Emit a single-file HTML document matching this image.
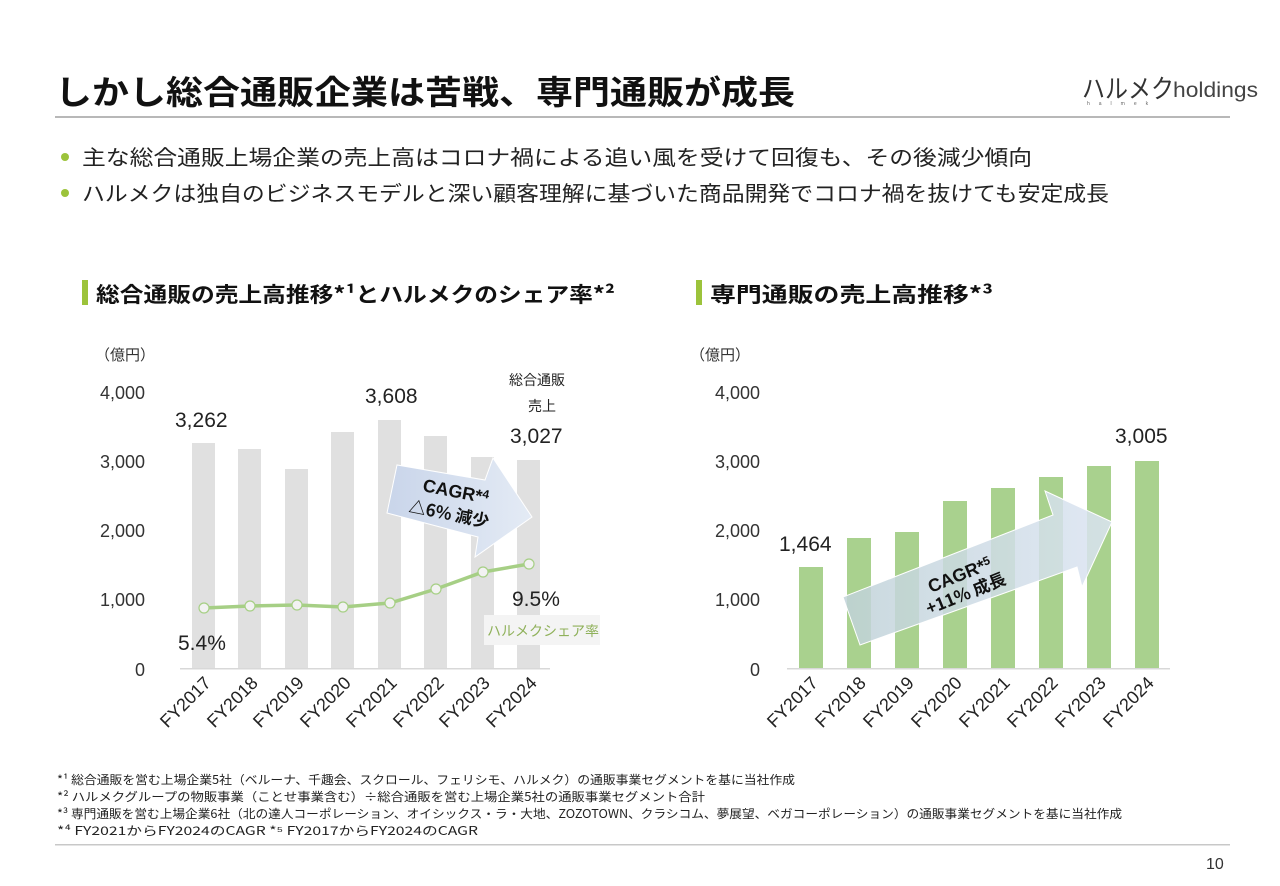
<!DOCTYPE html>
<html><head><meta charset="utf-8"><style>
html,body{margin:0;padding:0;background:#fff;}
svg{display:block;}
text{font-family:"Liberation Sans","Noto Sans CJK JP",sans-serif;}
.cjk{font-family:"Noto Sans CJK JP","Liberation Sans",sans-serif;}
.tick{font-size:18px;fill:#333;text-anchor:end;}
.dl{font-size:21px;fill:#222;}
.xl{font-size:18px;fill:#222;text-anchor:end;}
.fn{font-size:12px;fill:#222;}
</style></head><body>
<svg width="1280" height="886" viewBox="0 0 1280 886" xmlns="http://www.w3.org/2000/svg">
<defs>
<linearGradient id="g1" x1="0" y1="0" x2="1" y2="0">
<stop offset="0" stop-color="#c9d5ea"/><stop offset="1" stop-color="#e4ebf5"/></linearGradient>
<linearGradient id="g2" x1="0" y1="0" x2="1" y2="0">
<stop offset="0" stop-color="#c0d2d8" stop-opacity="0.85"/><stop offset="1" stop-color="#dbe4f2" stop-opacity="0.85"/></linearGradient>
</defs>
<text class="cjk" x="55" y="104" font-size="33" font-weight="bold" fill="#111" textLength="740" lengthAdjust="spacingAndGlyphs">しかし総合通販企業は苦戦、専門通販が成長</text>
<text class="cjk" x="1082" y="98" font-size="26" fill="#333" textLength="92" lengthAdjust="spacingAndGlyphs">ハルメク</text>
<text x="1173" y="97" font-size="21" fill="#444" textLength="85" lengthAdjust="spacingAndGlyphs">holdings</text>
<text x="1087" y="105" font-size="5" fill="#666" letter-spacing="9">halmek</text>
<rect x="55" y="116" width="1175" height="2" fill="#b8b8b8"/>
<circle cx="65" cy="157" r="4" fill="#9cc33b"/>
<text class="cjk" x="82" y="165" font-size="21" fill="#222" textLength="950" lengthAdjust="spacingAndGlyphs">主な総合通販上場企業の売上高はコロナ禍による追い風を受けて回復も、その後減少傾向</text>
<circle cx="65" cy="193" r="4" fill="#9cc33b"/>
<text class="cjk" x="82" y="201" font-size="21" fill="#222" textLength="1027" lengthAdjust="spacingAndGlyphs">ハルメクは独自のビジネスモデルと深い顧客理解に基づいた商品開発でコロナ禍を抜けても安定成長</text>
<rect x="82" y="280" width="6" height="25" fill="#9cc33b"/>
<text class="cjk" x="96" y="302" font-size="21" font-weight="bold" fill="#111" textLength="519" lengthAdjust="spacingAndGlyphs">総合通販の売上高推移*¹とハルメクのシェア率*²</text>
<rect x="696" y="280" width="6" height="25" fill="#9cc33b"/>
<text class="cjk" x="710" y="302" font-size="21" font-weight="bold" fill="#111" textLength="283" lengthAdjust="spacingAndGlyphs">専門通販の売上高推移*³</text>
<text class="cjk" x="95" y="360" font-size="15" fill="#333">（億円）</text>
<text class="tick" x="145" y="399">4,000</text>
<text class="tick" x="145" y="468">3,000</text>
<text class="tick" x="145" y="537">2,000</text>
<text class="tick" x="145" y="606">1,000</text>
<text class="tick" x="145" y="676">0</text>
<g fill="#e0e0e0">
<rect x="192" y="443" width="23" height="226"/>
<rect x="238" y="449" width="23" height="220"/>
<rect x="285" y="469" width="23" height="200"/>
<rect x="331" y="432" width="23" height="237"/>
<rect x="378" y="420" width="23" height="249"/>
<rect x="424" y="436" width="23" height="233"/>
<rect x="471" y="457" width="23" height="212"/>
<rect x="517" y="460" width="23" height="209"/>
</g>
<rect x="180" y="668" width="370" height="1.5" fill="#d8d8d8"/>
<polygon points="387,513 397,465 485,480 493,458 532,517 475,557 478,537" fill="url(#g1)" stroke="#fff" stroke-width="1"/>
<text x="0" y="0" font-size="18" font-weight="bold" fill="#111" transform="translate(422,491) rotate(11)">CAGR*<tspan font-size="12" dy="-5">4</tspan></text>
<text class="cjk" x="0" y="0" font-size="17" font-weight="bold" fill="#111" transform="translate(408,512) rotate(11)">△6% 減少</text>
<polyline points="204,608 250,606 297,605 343,607 390,603 436,589 483,572 529,564" fill="none" stroke="#a6cf85" stroke-width="3.5"/>
<g fill="#f2f2f2" stroke="#a6cf85" stroke-width="1.2">
<circle cx="204" cy="608" r="5"/><circle cx="250" cy="606" r="5"/><circle cx="297" cy="605" r="5"/><circle cx="343" cy="607" r="5"/><circle cx="390" cy="603" r="5"/><circle cx="436" cy="589" r="5"/><circle cx="483" cy="572" r="5"/><circle cx="529" cy="564" r="5"/>
</g>
<text class="dl" x="175" y="427">3,262</text>
<text class="dl" x="365" y="403">3,608</text>
<text class="cjk" x="509" y="385" font-size="14" fill="#222">総合通販</text>
<text class="cjk" x="528" y="411" font-size="14" fill="#222">売上</text>
<text class="dl" x="510" y="443">3,027</text>
<text class="dl" x="178" y="650">5.4%</text>
<text class="dl" x="512" y="606">9.5%</text>
<rect x="484" y="615" width="116" height="30" fill="#f4f4f4"/>
<text class="cjk" x="487" y="636" font-size="14" fill="#8fb15a" textLength="112" lengthAdjust="spacingAndGlyphs">ハルメクシェア率</text>
<text class="xl" transform="translate(212,684) rotate(-45)">FY2017</text>
<text class="xl" transform="translate(259,684) rotate(-45)">FY2018</text>
<text class="xl" transform="translate(305,684) rotate(-45)">FY2019</text>
<text class="xl" transform="translate(352,684) rotate(-45)">FY2020</text>
<text class="xl" transform="translate(398,684) rotate(-45)">FY2021</text>
<text class="xl" transform="translate(445,684) rotate(-45)">FY2022</text>
<text class="xl" transform="translate(491,684) rotate(-45)">FY2023</text>
<text class="xl" transform="translate(538,684) rotate(-45)">FY2024</text>
<text class="cjk" x="690" y="360" font-size="15" fill="#333">（億円）</text>
<text class="tick" x="760" y="399">4,000</text>
<text class="tick" x="760" y="468">3,000</text>
<text class="tick" x="760" y="537">2,000</text>
<text class="tick" x="760" y="606">1,000</text>
<text class="tick" x="760" y="676">0</text>
<g fill="#a9d18e">
<rect x="799" y="567" width="24" height="102"/>
<rect x="847" y="538" width="24" height="131"/>
<rect x="895" y="532" width="24" height="137"/>
<rect x="943" y="501" width="24" height="168"/>
<rect x="991" y="488" width="24" height="181"/>
<rect x="1039" y="477" width="24" height="192"/>
<rect x="1087" y="466" width="24" height="203"/>
<rect x="1135" y="461" width="24" height="208"/>
</g>
<rect x="787" y="668" width="383" height="1.5" fill="#d8d8d8"/>
<polygon points="860,645 843,597 1053,515 1045,491 1112,522 1082,587 1077,567" fill="url(#g2)" stroke="#fff" stroke-width="1"/>
<text x="0" y="0" font-size="18" font-weight="bold" fill="#111" transform="translate(931,593) rotate(-22)">CAGR*<tspan font-size="12" dy="-5">5</tspan></text>
<text class="cjk" x="0" y="0" font-size="17" font-weight="bold" fill="#111" transform="translate(929,615) rotate(-22)">+11% 成長</text>
<text class="dl" x="779" y="551">1,464</text>
<text class="dl" x="1115" y="443">3,005</text>
<text class="xl" transform="translate(819,684) rotate(-45)">FY2017</text>
<text class="xl" transform="translate(867,684) rotate(-45)">FY2018</text>
<text class="xl" transform="translate(915,684) rotate(-45)">FY2019</text>
<text class="xl" transform="translate(963,684) rotate(-45)">FY2020</text>
<text class="xl" transform="translate(1011,684) rotate(-45)">FY2021</text>
<text class="xl" transform="translate(1059,684) rotate(-45)">FY2022</text>
<text class="xl" transform="translate(1107,684) rotate(-45)">FY2023</text>
<text class="xl" transform="translate(1155,684) rotate(-45)">FY2024</text>
<text class="fn cjk" x="57" y="784" textLength="738" lengthAdjust="spacingAndGlyphs">*¹  総合通販を営む上場企業5社（ベルーナ、千趣会、スクロール、フェリシモ、ハルメク）の通販事業セグメントを基に当社作成</text>
<text class="fn cjk" x="57" y="801" textLength="648" lengthAdjust="spacingAndGlyphs">*²  ハルメクグループの物販事業（ことせ事業含む）÷総合通販を営む上場企業5社の通販事業セグメント合計</text>
<text class="fn cjk" x="57" y="818" textLength="1065" lengthAdjust="spacingAndGlyphs">*³  専門通販を営む上場企業6社（北の達人コーポレーション、オイシックス・ラ・大地、ZOZOTOWN、クラシコム、夢展望、ベガコーポレーション）の通販事業セグメントを基に当社作成</text>
<text class="fn cjk" x="57" y="835" textLength="421" lengthAdjust="spacingAndGlyphs">*⁴ FY2021からFY2024のCAGR  *⁵  FY2017からFY2024のCAGR</text>
<rect x="55" y="844" width="1175" height="1.5" fill="#c8c8c8"/>
<text x="1206" y="869" font-size="16" fill="#333">10</text>
</svg>
</body></html>
